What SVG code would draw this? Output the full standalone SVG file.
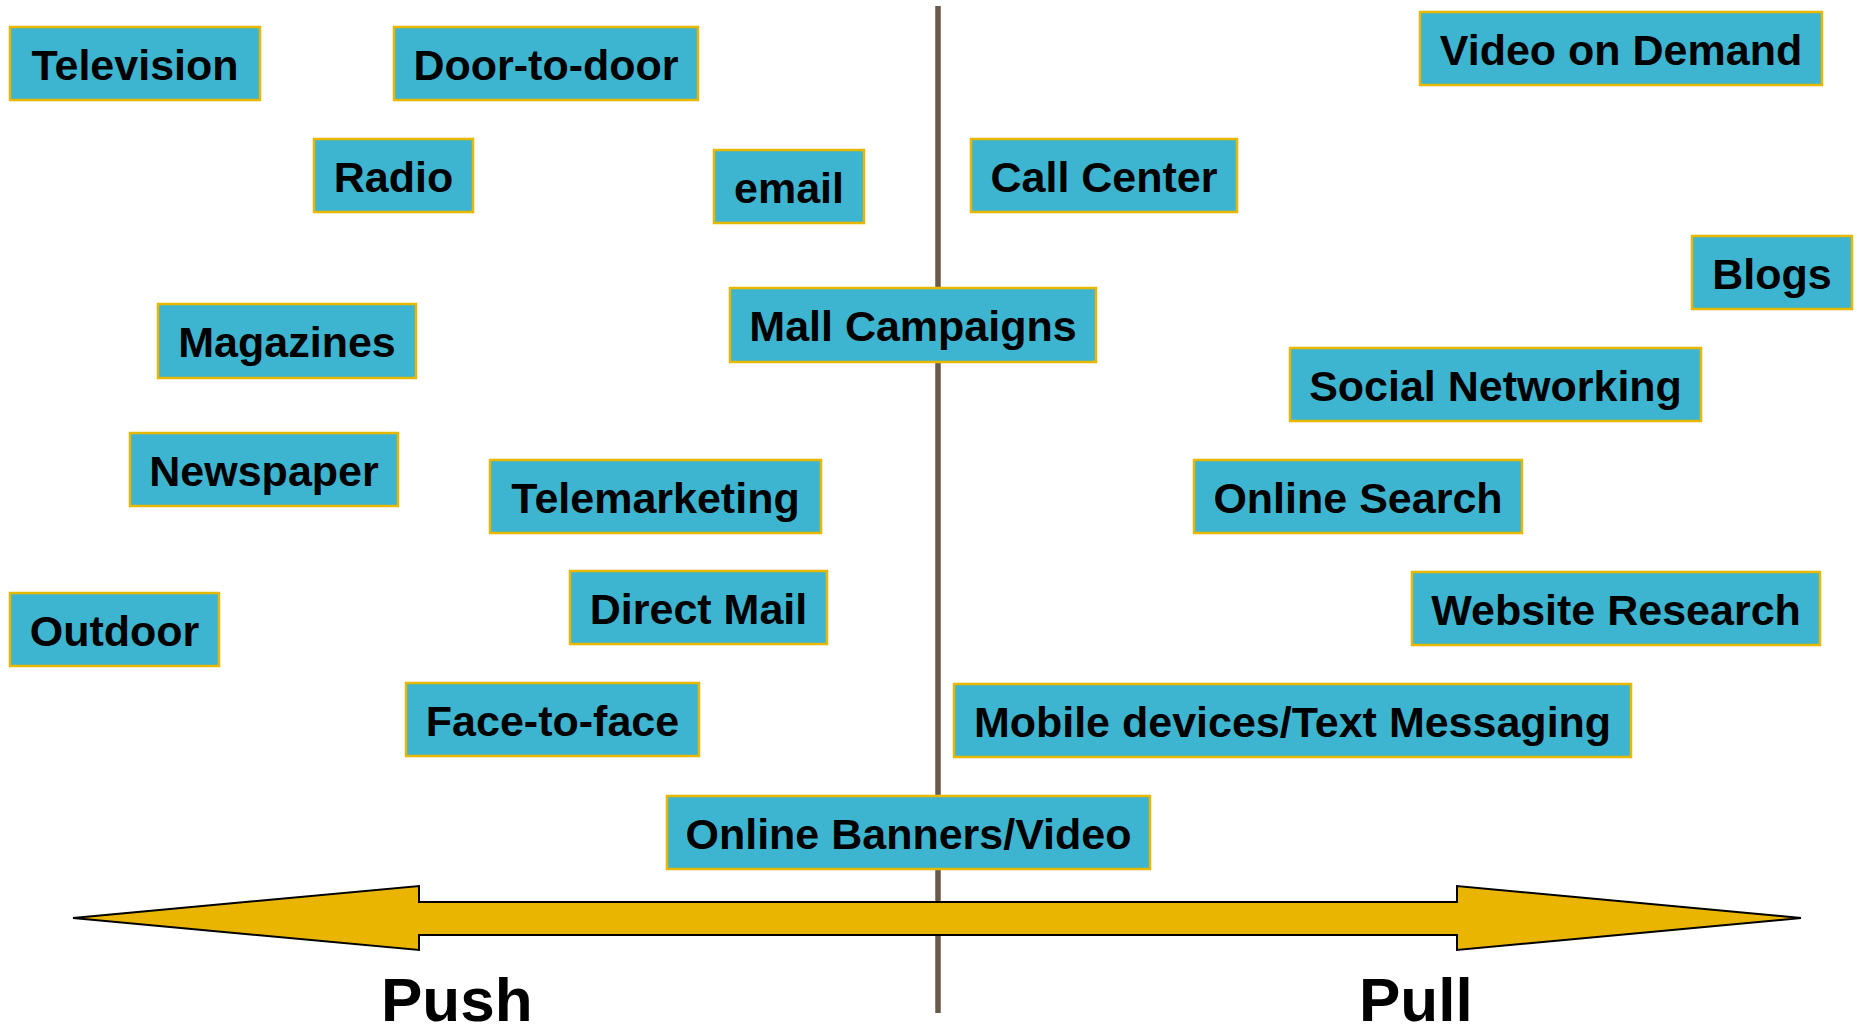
<svg xmlns="http://www.w3.org/2000/svg" width="1857" height="1028" viewBox="0 0 1857 1028">
  <style>
    .box rect { fill: #3DB5D0; stroke: #E8B700; stroke-width: 2.5; }
    .box text { font-family: "Liberation Sans", Arial, sans-serif; font-weight: bold; font-size: 43px; fill: #000; text-anchor: middle; }
    .axis { font-family: "Liberation Sans", Arial, sans-serif; font-weight: bold; font-size: 62px; fill: #000; }
  </style>
  <rect width="1857" height="1028" fill="#ffffff"/>

  <g id="connectors">
    <!-- divider between push and pull -->
    <line x1="938" y1="6" x2="938" y2="1013" stroke="#6B5A4A" stroke-width="5.5"/>
    <!-- double-headed push/pull arrow -->
    <polygon points="73,918 419,886 419,902 1457,902 1457,886 1801,918 1457,950 1457,935 419,935 419,950" fill="#E9B500" stroke="#000" stroke-width="2" stroke-linejoin="miter"/>
  </g>

  <g id="television" class="box"><rect x="10" y="27" width="250" height="73"/><text x="135" y="80">Television</text></g>
  <g id="door-to-door" class="box"><rect x="394" y="27" width="304" height="73"/><text x="546" y="80">Door-to-door</text></g>
  <g id="radio" class="box"><rect x="314" y="139" width="159" height="73"/><text x="393.5" y="192">Radio</text></g>
  <g id="email" class="box"><rect x="714" y="150" width="150" height="73"/><text x="789" y="203">email</text></g>
  <g id="call-center" class="box"><rect x="971" y="139" width="266" height="73"/><text x="1104" y="192">Call Center</text></g>
  <g id="video-on-demand" class="box"><rect x="1420" y="12" width="402" height="73"/><text x="1621" y="65">Video on Demand</text></g>
  <g id="blogs" class="box"><rect x="1692" y="236" width="160" height="73"/><text x="1772" y="289">Blogs</text></g>
  <g id="magazines" class="box"><rect x="158" y="304" width="258" height="74"/><text x="287" y="357">Magazines</text></g>
  <g id="mall-campaigns" class="box"><rect x="730" y="288" width="366" height="74"/><text x="913" y="341">Mall Campaigns</text></g>
  <g id="social-networking" class="box"><rect x="1290" y="348" width="411" height="73"/><text x="1495.5" y="401">Social Networking</text></g>
  <g id="newspaper" class="box"><rect x="130" y="433" width="268" height="73"/><text x="264" y="486">Newspaper</text></g>
  <g id="telemarketing" class="box"><rect x="490" y="460" width="331" height="73"/><text x="655.5" y="513">Telemarketing</text></g>
  <g id="online-search" class="box"><rect x="1194" y="460" width="328" height="73"/><text x="1358" y="513">Online Search</text></g>
  <g id="outdoor" class="box"><rect x="10" y="593" width="209" height="73"/><text x="114.5" y="646">Outdoor</text></g>
  <g id="direct-mail" class="box"><rect x="570" y="571" width="257" height="73"/><text x="698.5" y="624">Direct Mail</text></g>
  <g id="website-research" class="box"><rect x="1412" y="572" width="408" height="73"/><text x="1616" y="625">Website Research</text></g>
  <g id="face-to-face" class="box"><rect x="406" y="683" width="293" height="73"/><text x="552.5" y="736">Face-to-face</text></g>
  <g id="mobile-devices" class="box"><rect x="954" y="684" width="677" height="73"/><text x="1292.5" y="737">Mobile devices/Text Messaging</text></g>
  <g id="online-banners" class="box"><rect x="667" y="796" width="483" height="73"/><text x="908.5" y="849">Online Banners/Video</text></g>

  <text class="axis" x="381" y="1021">Push</text>
  <text class="axis" x="1359" y="1021">Pull</text>
</svg>
